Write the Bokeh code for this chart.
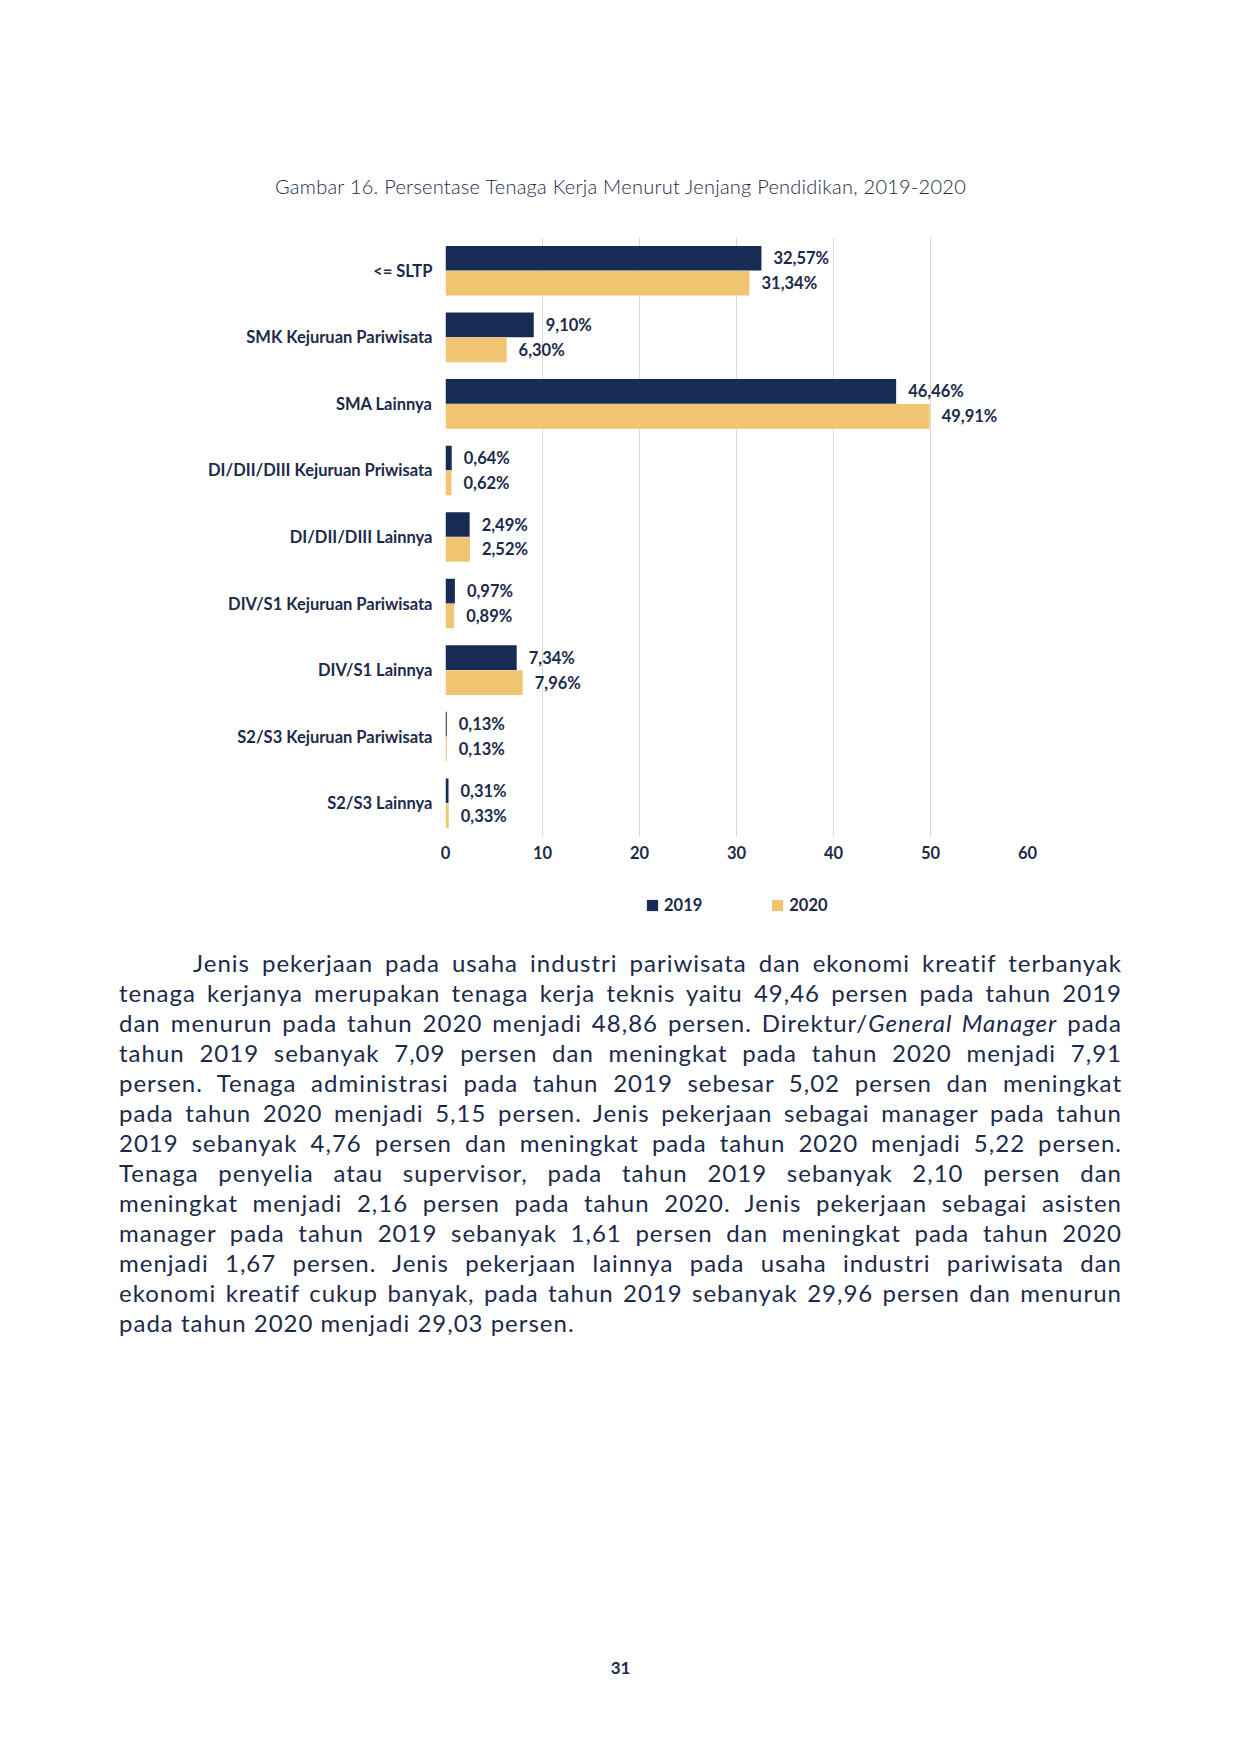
from bokeh.plotting import figure
from bokeh.models import (Range1d, FactorRange, FixedTicker, Legend, LegendItem,
                          Div, ColumnDataSource)
from bokeh.layouts import column
from bokeh.transform import dodge
from bokeh.embed import file_html
from bokeh.resources import INLINE
from bokeh.core.properties import value

# ---------------- data ----------------
title_text = "Gambar 16. Persentase Tenaga Kerja Menurut Jenjang Pendidikan, 2019-2020"
categories = [
    "<= SLTP",
    "SMK Kejuruan Pariwisata",
    "SMA Lainnya",
    "DI/DII/DIII Kejuruan Priwisata",
    "DI/DII/DIII Lainnya",
    "DIV/S1 Kejuruan Pariwisata",
    "DIV/S1 Lainnya",
    "S2/S3 Kejuruan Pariwisata",
    "S2/S3 Lainnya",
]
values_2019 = [32.57, 9.10, 46.46, 0.64, 2.49, 0.97, 7.34, 0.13, 0.31]
values_2020 = [31.34, 6.30, 49.91, 0.62, 2.52, 0.89, 7.96, 0.13, 0.33]
series_names = ["2019", "2020"]
x_ticks = [0, 10, 20, 30, 40, 50, 60]

paragraph_lines = [
    "Jenis pekerjaan pada usaha industri pariwisata dan ekonomi kreatif terbanyak",
    "tenaga kerjanya merupakan tenaga kerja teknis yaitu 49,46 persen pada tahun 2019",
    "dan menurun pada tahun 2020 menjadi 48,86 persen. Direktur/<i>General Manager</i> pada",
    "tahun 2019 sebanyak 7,09 persen dan meningkat pada tahun 2020 menjadi 7,91",
    "persen. Tenaga administrasi pada tahun 2019 sebesar 5,02 persen dan meningkat",
    "pada tahun 2020 menjadi 5,15 persen. Jenis pekerjaan sebagai manager pada tahun",
    "2019 sebanyak 4,76 persen dan meningkat pada tahun 2020 menjadi 5,22 persen.",
    "Tenaga penyelia atau supervisor, pada tahun 2019 sebanyak 2,10 persen dan",
    "meningkat menjadi 2,16 persen pada tahun 2020. Jenis pekerjaan sebagai asisten",
    "manager pada tahun 2019 sebanyak 1,61 persen dan meningkat pada tahun 2020",
    "menjadi 1,67 persen. Jenis pekerjaan lainnya pada usaha industri pariwisata dan",
    "ekonomi kreatif cukup banyak, pada tahun 2019 sebanyak 29,96 persen dan menurun",
    "pada tahun 2020 menjadi 29,03 persen.",
]
page_number = "31"

# ---------------- style ----------------
NAVY = "#172b54"
GOLD = "#f1c472"
TEXT = "#1c2a4a"
FONT = "Lato"
LBL = "16.5px"


def fmt(v):
    return f"{v:.2f}".replace(".", ",") + "%"


src = ColumnDataSource(dict(
    cat=categories,
    v19=values_2019,
    v20=values_2020,
    l19=[fmt(v) for v in values_2019],
    l20=[fmt(v) for v in values_2020],
))

# ---------------- chart ----------------
p = figure(
    width=1225, height=663,
    y_range=FactorRange(factors=categories[::-1]),
    x_range=Range1d(0, 60),
    output_backend="svg", toolbar_location=None,
    min_border_left=445, min_border_right=198,
    min_border_top=19, min_border_bottom=45,
)
p.background_fill_color = "white"
p.border_fill_color = "white"
p.outline_line_color = None

OFF = 0.1875
H = 0.37
r19 = p.hbar(y=dodge("cat", OFF, range=p.y_range), left=0, right="v19", height=H,
             fill_color=NAVY, line_color=None, source=src)
r20 = p.hbar(y=dodge("cat", -OFF, range=p.y_range), left=0, right="v20", height=H,
             fill_color=GOLD, line_color=None, source=src)

for col, lab, off in (("v19", "l19", OFF), ("v20", "l20", -OFF)):
    p.text(x=col, y=dodge("cat", off, range=p.y_range), text=lab, x_offset=12,
           text_baseline="middle", text_align="left",
           text_font=value(FONT), text_font_style="bold", text_font_size=LBL,
           text_color=TEXT, source=src)

for ax in (p.xaxis, p.yaxis):
    ax.axis_line_color = None
    ax.major_tick_line_color = None
    ax.minor_tick_line_color = None
    ax.major_tick_out = 0
    ax.major_tick_in = 0
    ax.major_label_text_font = FONT
    ax.major_label_text_font_style = "bold"
    ax.major_label_text_font_size = LBL
    ax.major_label_text_color = TEXT

p.xaxis.ticker = FixedTicker(ticks=x_ticks)
p.xaxis.major_label_standoff = 9
p.yaxis.major_label_standoff = 13
p.xgrid.ticker = FixedTicker(ticks=x_ticks)
p.xgrid.grid_line_color = "#d9d9d9"
p.xgrid.grid_line_width = 1
p.ygrid.grid_line_color = None

# ---------------- legend strip (frame aligned with chart frame) ----------------
pl = figure(
    width=1225, height=48, x_range=Range1d(0, 1), y_range=Range1d(0, 1),
    output_backend="svg", toolbar_location=None,
    min_border_left=445, min_border_right=198, min_border_top=0, min_border_bottom=0,
)
pl.axis.visible = False
pl.grid.visible = False
pl.outline_line_color = None
pl.background_fill_color = "white"
pl.border_fill_color = "white"
# legend proxies, kept outside the strip's visible range
k19 = pl.hbar(y=[-5], left=[0], right=[1], height=0.5, fill_color=NAVY, line_color=None)
k20 = pl.hbar(y=[-5], left=[0], right=[1], height=0.5, fill_color=GOLD, line_color=None)
legend = Legend(
    items=[LegendItem(label=series_names[0], renderers=[k19]),
           LegendItem(label=series_names[1], renderers=[k20])],
    orientation="horizontal", location=(200, 14),
    glyph_width=14, glyph_height=14, label_standoff=5, spacing=68,
    padding=0, margin=0, border_line_color=None, background_fill_alpha=0,
    label_text_font=FONT, label_text_font_style="bold",
    label_text_font_size=LBL, label_text_color=TEXT,
)
pl.add_layout(legend)

# ---------------- page texts ----------------
title_div = Div(
    text=(f'<div style="width:1225px;height:218px;padding-top:174px;padding-left:16px;'
          f'box-sizing:border-box;text-align:center;font-family:Lato;font-weight:300;'
          f'font-size:20px;letter-spacing:0.25px;line-height:24px;color:{TEXT}">'
          f'{title_text}</div>'),
    width=1225, height=218, margin=0,
)

n = len(paragraph_lines)
rows = []
for i, line in enumerate(paragraph_lines):
    last = "justify" if i < n - 1 else "left"
    indent = "text-indent:74px;" if i == 0 else ""
    rows.append(f'<div style="text-align:justify;text-align-last:{last};{indent}">{line}</div>')
para_div = Div(
    text=(f'<div style="width:1225px;height:417px;box-sizing:border-box;padding-top:19px;'
          f'padding-left:119px;font-family:Lato;font-weight:400;font-size:24px;'
          f'letter-spacing:1px;line-height:30px;color:{TEXT}"><div style="width:1003px">'
          + "".join(rows) + '</div></div>'),
    width=1225, height=417, margin=0,
)

num_div = Div(
    text=(f'<div style="width:1225px;height:340px;box-sizing:border-box;padding-top:312px;'
          f'padding-left:16px;text-align:center;font-family:Lato;font-weight:700;font-size:17px;'
          f'line-height:20px;color:{TEXT}">{page_number}</div>'),
    width=1225, height=340, margin=0,
)

layout = column(title_div, p, pl, para_div, num_div, spacing=0)

with open("out.html", "w") as f:
    f.write(file_html(layout, INLINE))
